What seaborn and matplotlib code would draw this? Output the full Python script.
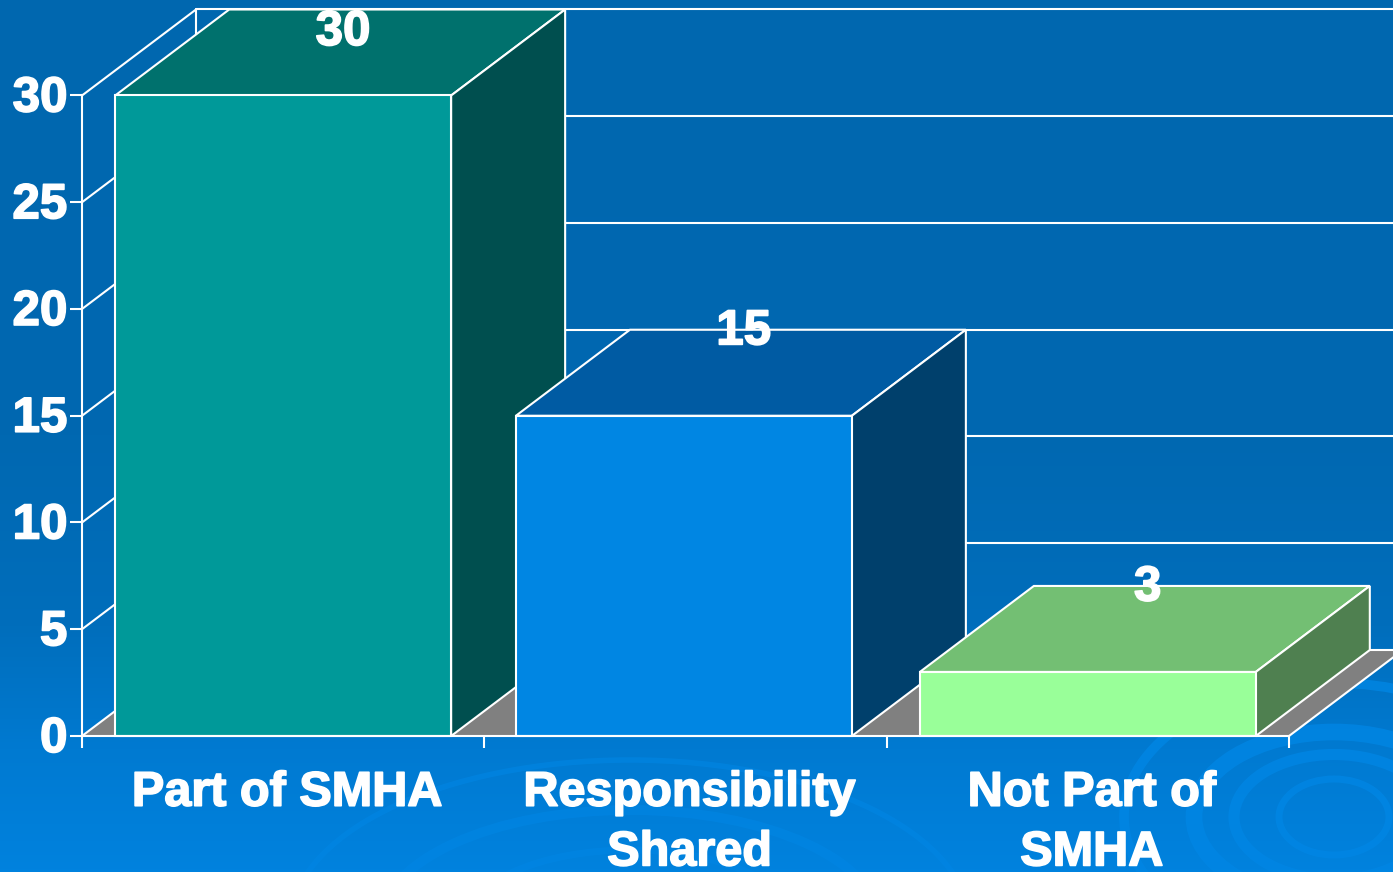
import numpy as np
import pandas as pd
import seaborn as sns
import matplotlib.pyplot as plt
import matplotlib.patheffects as pe
from matplotlib.colors import LinearSegmentedColormap
from matplotlib.patches import Ellipse
from matplotlib.transforms import ScaledTranslation

categories = ['Part of SMHA', 'Responsibility\nShared', 'Not Part of\nSMHA']
values = [30, 15, 3]
yticks = [0, 5, 10, 15, 20, 25, 30]
front_colors = ['#009999', '#0086E3', '#99FF99']
top_colors = ['#00716D', '#005BA3', '#73BF73']
side_colors = ['#004F4F', '#00406C', '#4F8050']

# 3D look: how far the back wall sits from the front plane, in data units
DEPTH_X = 114 / 402.33
DEPTH_Y = 86 / 21.35

sns.set_theme(style='white')
plt.rcParams['font.family'] = ['Liberation Sans', 'DejaVu Sans']
plt.rcParams['font.weight'] = 'bold'

fig = plt.figure(figsize=(13.93, 8.72), dpi=100)
heavy = [pe.withStroke(linewidth=1.2, foreground='white')]


def nudge(px, py):
    return ScaledTranslation(px / 100, py / 100, fig.dpi_scale_trans)


# background: gradient plus the faint ripples
bg = fig.add_axes([0, 0, 1, 1], zorder=0)
cmap = LinearSegmentedColormap.from_list('bg', [(0, '#0067AF'), (0.5, '#0068B1'), (0.72, '#006EBC'),
                                                (0.86, '#007AD1'), (1, '#0082DE')])
bg.imshow(np.linspace(0, 1, 256).reshape(-1, 1), aspect='auto', cmap=cmap, extent=[0, 1393, 872, 0])
for w, h, lw in [(110, 76, 5), (200, 125, 8), (280, 170, 12), (420, 268, 7)]:
    bg.add_patch(Ellipse((1334, 817), w, h, fill=False, ec='#0086E4', lw=lw, alpha=0.8))
for w, h, lw in [(330, 150, 5), (500, 230, 7), (680, 330, 4)]:
    bg.add_patch(Ellipse((630, 925), w, h, fill=False, ec='#0086E4', lw=lw, alpha=0.6))
bg.set_xlim(0, 1393)
bg.set_ylim(872, 0)
bg.axis('off')

ax = fig.add_axes([82 / 1393, 136 / 872, 1207 / 1393, 640.5 / 872], zorder=1)
ax.patch.set_alpha(0)

df = pd.DataFrame({'category': categories, 'value': values})
sns.barplot(data=df, x='category', y='value', hue='category', order=categories,
            palette=front_colors, saturation=1, width=0.835, edgecolor='white', linewidth=1.5,
            legend=False, ax=ax)
ax.set_xlim(-0.5, 2.5)
ax.set_ylim(0, 30)
ax.set_xlabel('')
ax.set_ylabel('')
ax.set_yticks(yticks)
ax.set_xticks([-0.5, 0.5, 1.5, 2.5], minor=False)
ax.set_xticklabels([])
ax.set_xticks([0, 1, 2], minor=True)
ax.set_xticklabels(categories, minor=True, fontsize=35, color='white', fontweight='bold', linespacing=1.42,
                   path_effects=heavy)
ax.tick_params(axis='x', which='major', length=8.5, width=1.5, color='white', bottom=True)
ax.tick_params(axis='x', which='minor', length=0, pad=25)
ax.tick_params(axis='y', length=9, width=1.5, color='white', left=True, pad=1.5)
for lab in ax.get_xticklabels(minor=True):
    lab.set_transform(lab.get_transform() + nudge(4, 0))
for lab in ax.get_yticklabels():
    lab.set(fontsize=35.5, color='white', fontweight='bold', path_effects=heavy)
    lab.set_transform(lab.get_transform() + nudge(0, 1.5))

sns.despine(ax=ax, top=True, right=True)
for side in ['left', 'bottom']:
    ax.spines[side].set_color('white')
    ax.spines[side].set_linewidth(1.5)
    ax.spines[side].set_zorder(30)

line = dict(color='white', lw=1.5, clip_on=False)
x0, x1 = -0.5, 2.5
# floor
ax.fill([x0, x1, x1 + DEPTH_X, x0 + DEPTH_X], [0, 0, DEPTH_Y, DEPTH_Y], color='#808080', clip_on=False, zorder=1, lw=0)
# walls and gridlines
far_right = x1 + DEPTH_X
for t in yticks:
    ax.plot([x0, x0 + DEPTH_X], [t, t + DEPTH_Y], zorder=2, **line)
    ax.plot([x0 + DEPTH_X, far_right], [t + DEPTH_Y, t + DEPTH_Y], zorder=2, **line)
ax.plot([x0 + DEPTH_X, x0 + DEPTH_X], [DEPTH_Y, 30 + DEPTH_Y], zorder=2, **line)
ax.plot([x1, x1 + DEPTH_X], [0, DEPTH_Y], zorder=2, **line)

# the middle bar sits a hair left of its slot in the original
ax.patches[1].set_x(ax.patches[1].get_x() - 0.004)

# extrude each bar from the rectangle seaborn drew
for i, (bar, val) in enumerate(zip(ax.patches, values)):
    l, r = bar.get_x(), bar.get_x() + bar.get_width()
    z = 5 + i * 2
    bar.set_zorder(z + 1)
    bar.set_clip_on(False)
    ax.fill([l, r, r + DEPTH_X, l + DEPTH_X], [val, val, val + DEPTH_Y, val + DEPTH_Y],
            fc=top_colors[i], ec='white', lw=1.5, clip_on=False, zorder=z)
    ax.fill([r, r + DEPTH_X, r + DEPTH_X, r], [0, DEPTH_Y, val + DEPTH_Y, val],
            fc=side_colors[i], ec='white', lw=1.5, clip_on=False, zorder=z)
    # the label of the tallest bar is pushed down inside the plot
    ax.text((l + r) / 2 + DEPTH_X / 2 + 0.007, min(val + DEPTH_Y - 0.1, 32.95), str(val), ha='center', va='center',
            fontsize=35.5, color='white', fontweight='bold', zorder=40, clip_on=False, path_effects=heavy)

fig.savefig('out.png', dpi=100)
